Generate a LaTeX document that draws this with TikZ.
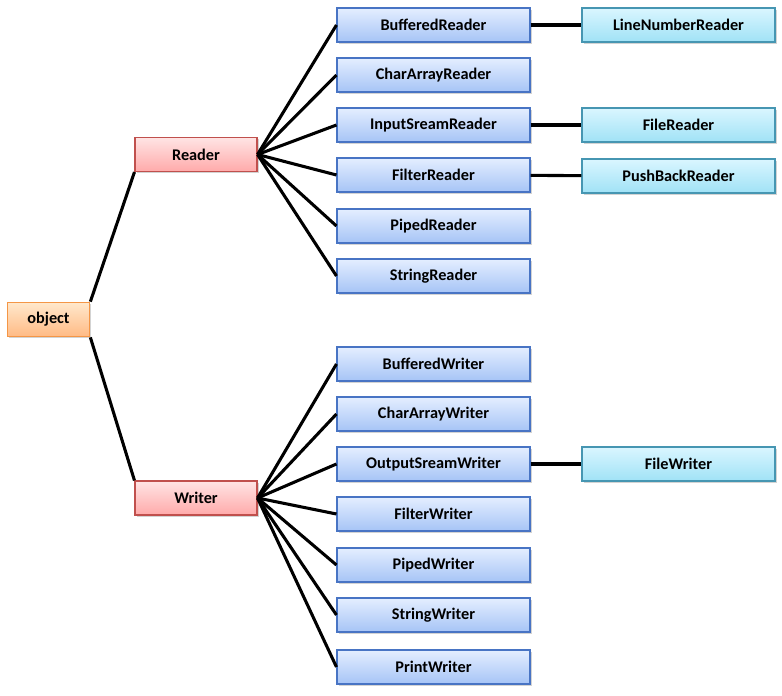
\documentclass[tikz,border=0pt]{standalone}
\usepackage{fontspec}
\setmainfont{Carlito}
\usetikzlibrary{shadows}
\definecolor{midtop}{RGB}{228,238,255}
\definecolor{midbot}{RGB}{166,196,246}
\definecolor{midline}{RGB}{72,116,196}
\definecolor{subtop}{RGB}{218,246,255}
\definecolor{subbot}{RGB}{160,226,246}
\definecolor{subline}{RGB}{70,150,178}
\definecolor{redtop}{RGB}{255,228,228}
\definecolor{redbot}{RGB}{255,170,170}
\definecolor{redline}{RGB}{192,80,77}
\definecolor{objtop}{RGB}{255,232,204}
\definecolor{objbot}{RGB}{255,186,132}
\definecolor{objline}{RGB}{244,150,70}
\tikzset{
  box/.style={rectangle,thick,minimum height=25.5pt,inner sep=0pt,
    font=\fontsize{12.2}{14}\selectfont\bfseries,
    drop shadow={shadow xshift=1.2pt,shadow yshift=-1.2pt,opacity=0.35}},
  classbox/.style={box,draw=midline,top color=midtop,bottom color=midbot,minimum width=144.75pt},
  subbox/.style={box,draw=subline,top color=subtop,bottom color=subbot,minimum width=144.75pt},
  basebox/.style={box,draw=redline,top color=redtop,bottom color=redbot,minimum width=91.5pt},
  rootbox/.style={box,draw=objline,top color=objtop,bottom color=objbot,minimum width=62pt,minimum height=26pt},
  link/.style={line width=2.3pt,black}
}
\begin{document}
\begin{tikzpicture}[x=0.75pt,y=-0.75pt]
\useasboundingbox (0,0) rectangle (782,696);
% roots
\node[rootbox] (object) at (48.5,319.5) {object};
\node[basebox] (reader) at (196,154.5) {Reader};
\node[basebox] (writer) at (196,498) {Writer};
% readers
\node[classbox] (buffered) at (433.5,25) {BufferedReader};
\node[classbox] (chararray) at (433.5,75) {CharArrayReader};
\node[classbox] (inputstream) at (433.5,125) {InputSreamReader};
\node[classbox] (filter) at (433.5,175) {FilterReader};
\node[classbox] (piped) at (433.5,226) {PipedReader};
\node[classbox] (string) at (433.5,276) {StringReader};
\node[subbox] (linenumber) at (678.5,25) {LineNumberReader};
\node[subbox] (file) at (678.5,125) {FileReader};
\node[subbox] (pushback) at (678.5,176) {PushBackReader};
% writers
\node[classbox] (bufferedw) at (433.5,364) {BufferedWriter};
\node[classbox] (chararrayw) at (433.5,414) {CharArrayWriter};
\node[classbox] (outputstream) at (433.5,464) {OutputSreamWriter};
\node[classbox] (filterw) at (433.5,514) {FilterWriter};
\node[classbox] (pipedw) at (433.5,565) {PipedWriter};
\node[classbox] (stringw) at (433.5,615) {StringWriter};
\node[classbox] (printw) at (433.5,667) {PrintWriter};
\node[subbox] (filew) at (678.5,464) {FileWriter};
% links
\draw[link] (object.north east) -- (reader.south west);
\draw[link] (object.south east) -- (writer.north west);
\foreach \c in {buffered,chararray,inputstream,filter,piped,string}
  \draw[link] (reader.east) -- (\c.west);
\foreach \c in {bufferedw,chararrayw,outputstream,filterw,pipedw,stringw,printw}
  \draw[link] (writer.east) -- (\c.west);
\draw[link] (buffered) -- (linenumber);
\draw[link] (inputstream) -- (file);
\draw[link] (filter) -- (pushback);
\draw[link] (outputstream) -- (filew);
\end{tikzpicture}
\end{document}
